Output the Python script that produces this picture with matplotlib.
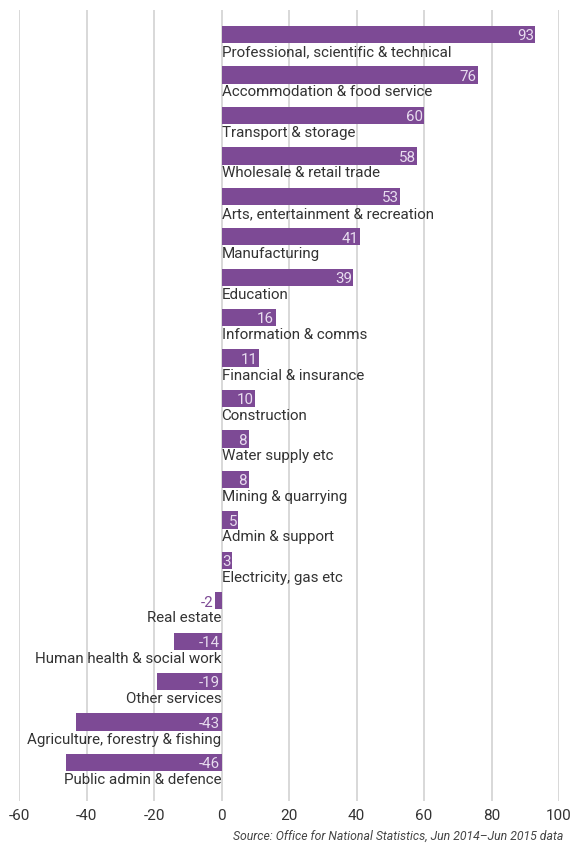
"""
Employment change by industry, horizontal bar chart.

Output:
    out.png
"""

import matplotlib.pyplot as plt

# ---------------------------------------------------------------------
# Data
# ---------------------------------------------------------------------

industries = [
    "Professional, scientific & technical",
    "Accommodation & food service",
    "Transport & storage",
    "Wholesale & retail trade",
    "Arts, entertainment & recreation",
    "Manufacturing",
    "Education",
    "Information & comms",
    "Financial & insurance",
    "Construction",
    "Water supply etc",
    "Mining & quarrying",
    "Admin & support",
    "Electricity, gas etc",
    "Real estate",
    "Human health & social work",
    "Other services",
    "Agriculture, forestry & fishing",
    "Public admin & defence",
]
change = [93, 76, 60, 58, 53, 41, 39, 16, 11, 10, 8, 8, 5, 3,
          -2, -14, -19, -43, -46]

x_ticks = [-60, -40, -20, 0, 20, 40, 60, 80, 100]
source_note = "Source: Office for National Statistics, Jun 2014\u2013Jun 2015 data"

PURPLE = "#7d4a95"
LABEL_LIGHT = "#e8dcef"
TEXT = "#333333"
GRID = "#d6d6d6"
FONT = "Roboto"
FS = 10.9
BAR_H = 0.43


def draw():
    fig = plt.figure(figsize=(5.7, 8.45), dpi=100)
    ax = fig.add_axes([19 / 570, 1 - 802 / 845, 540 / 570, 791 / 845])

    rows = list(range(len(change)))
    ax.barh(rows, change, height=BAR_H, color=PURPLE, zorder=2)

    for i, (name, v) in enumerate(zip(industries, change)):
        below = i + BAR_H / 2 + 0.02
        ax.text(0, below, name, ha="left" if v >= 0 else "right", va="top",
                fontsize=FS, family=FONT, color=TEXT, zorder=3)

        # value label sits inside the bar unless the bar is too short
        if v >= 0:
            x, color = v - 0.4, LABEL_LIGHT
        elif v > -3:
            x, color = v - 0.4, PURPLE
        else:
            x, color = -0.4, LABEL_LIGHT
        ax.text(x, i + 0.02, str(v), ha="right", va="center",
                fontsize=FS, family=FONT, color=color, zorder=3)

    ax.set_xlim(-60, 100)
    ax.set_ylim(18.95, -0.606)
    ax.set_xticks(x_ticks)
    ax.set_xticklabels([str(t) for t in x_ticks], family=FONT, fontsize=11,
                       color=TEXT)
    ax.set_yticks([])
    ax.tick_params(axis="x", length=0, pad=5)
    ax.grid(axis="x", color=GRID, linewidth=1.3, zorder=0)
    ax.set_axisbelow(True)
    for spine in ax.spines.values():
        spine.set_visible(False)

    fig.text(563 / 570, 1 - 836 / 845, source_note, ha="right", va="center",
             fontsize=8.8, style="italic", family=FONT, color="#444444")

    fig.savefig("out.png", dpi=100)
    plt.close(fig)


if __name__ == "__main__":
    draw()
